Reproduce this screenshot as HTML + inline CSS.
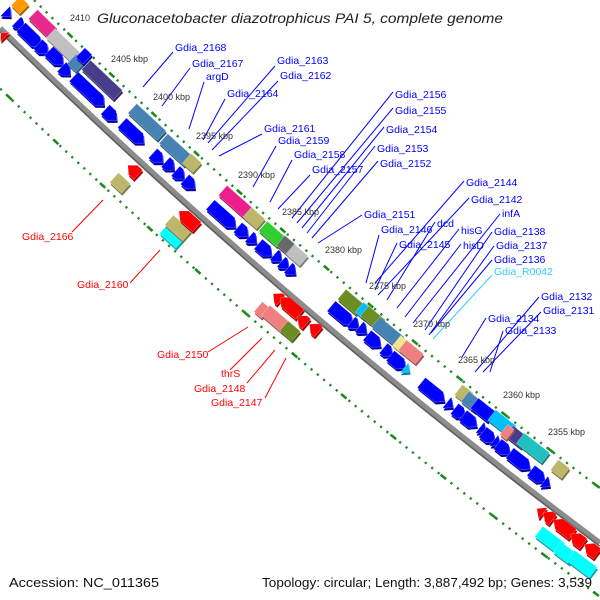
<!DOCTYPE html>
<html><head><meta charset="utf-8"><style>
html,body{margin:0;padding:0;background:#fff;width:600px;height:600px;overflow:hidden;}
svg{display:block;font-family:"Liberation Sans",sans-serif;}
</style></head><body>
<svg id="s" width="600" height="600" viewBox="0 0 600 600" xmlns="http://www.w3.org/2000/svg" overflow="hidden">
<rect width="600" height="600" fill="#fff"/>
<svg x="0" y="0" width="600" height="600" overflow="hidden">
<g id="bg"></g><g id="genes"></g><g id="lines"></g><g id="txt"></g>
</svg>
<rect x="94" y="7" width="414" height="21" fill="#fff"/>
<text x="97" y="23" font-size="14" font-style="italic" fill="#222" textLength="406" lengthAdjust="spacingAndGlyphs">Gluconacetobacter diazotrophicus PAI 5, complete genome</text>
<text x="9" y="587" font-size="13" fill="#111" textLength="150" lengthAdjust="spacingAndGlyphs">Accession: NC_011365</text>
<text x="262" y="587" font-size="13" fill="#111" textLength="330" lengthAdjust="spacingAndGlyphs">Topology: circular; Length: 3,887,492 bp; Genes: 3,539</text>
</svg>
<script>
(function(){
var NS="http://www.w3.org/2000/svg";
var cx=4130,cy=-4178,R=Math.hypot(0-cx,27-cy),phA=Math.atan2(27-cy,0-cx);
function pt(s,d){var p=phA-s/R,r=R-d;return [cx+r*Math.cos(p),cy+r*Math.sin(p)];}
function sOf(x,y){return R*(phA-Math.atan2(y-cy,x-cx));}
function inside(p){return p[0]>=0&&p[0]<=600&&p[1]>=0&&p[1]<=600;}
function el(par,tag,at){var e=document.createElementNS(NS,tag);for(var k in at)e.setAttribute(k,at[k]);document.getElementById(par).appendChild(e);return e;}
function arc(d,s1,s2){var a=pt(s1,d),b=pt(s2,d),r=R-d;return "M"+a[0]+","+a[1]+" A"+r+","+r+" 0 0 0 "+b[0]+","+b[1];}
function fullArc(d){var s1=null,s2=null;for(var s=-100;s<1000;s+=0.5){if(inside(pt(s,d))){if(s1===null)s1=s;s2=s;}}return arc(d,s1,s2);}
el("bg","path",{d:fullArc(-1),stroke:"#8c8c8c","stroke-width":6,fill:"none"});
el("bg","path",{d:fullArc(-3.5),stroke:"#5e5e5e","stroke-width":1.6,fill:"none"});
[43,-44].forEach(function(d){
 el("bg","path",{d:fullArc(d),stroke:"#1f8a1f","stroke-width":2.4,fill:"none","stroke-dasharray":"2.2 6"});
});
function dashes(d,p1,p2,n){var s1=sOf(p1[0],p1[1]),s2=sOf(p2[0],p2[1]),st=(s2-s1)/n;
 for(var k=-1;k<=n+2;k++){var s=s1+k*st;if(inside(pt(s-4,d))&&inside(pt(s+4,d)))el("bg","path",{d:arc(d,s-3.5,s+3.5),stroke:"#1f8a1f","stroke-width":2.6,fill:"none"});}}
dashes(43,[73,32],[553,447],11);
dashes(-44,[8,99],[545,555],11);
function shade(c){var n=parseInt(c.slice(1),16),r=n>>16,g=(n>>8)&255,b=n&255;
 return "rgb("+Math.round(r*0.65)+","+Math.round(g*0.65)+","+Math.round(b*0.65)+")";}
function gene(x,y,L,col,dir,T){T=T||13;var h=T/2,hh=Math.min(7,L),pts;
 if(dir==0){pts=[[-L/2,-h],[L/2,-h],[L/2,h],[-L/2,h]];}
 else if(L<=7){pts=[[-L/2,-h],[L/2,0],[-L/2,h]];}
 else{pts=[[-L/2,-h],[L/2-hh,-h],[L/2,0],[L/2-hh,h],[-L/2,h]];}
 if(dir<0)pts=pts.map(function(p){return [-p[0],p[1]];});
 var th=Math.atan2(y-cy,x-cx)*180/Math.PI-90;
 var ps=pts.map(function(p){return p[0].toFixed(1)+","+p[1].toFixed(1);}).join(" ");
 el("genes","polygon",{points:ps,fill:shade(col),transform:"translate("+(x+0.8)+","+(y+2.4)+") rotate("+th+")"});
 el("genes","polygon",{points:ps,fill:col,stroke:"rgba(255,255,255,0.35)","stroke-width":0.6,transform:"translate("+x+","+y+") rotate("+th+")"});
}
var B="#0000ff";
[[8,14,8],[20,25,10],[31,37,28],[43,49,14],[56,58,20],[66,71,12],[89,91,42],[111,115,16],[133,133,30],[158,158,14],[170,166,12],[180,175,12],[190,184,14],[223,216,34],[243,232,14],[253,240,10],[265,250,18],[278,258,10],[285,265,10],[292,271,10],[342,315,28],[355,325,10],[363,330,10],[374,341,18],[388,352,12],[398,362,20],[433,392,30],[450,405,8],[460,413,14],[470,421,18],[483,430,8],[489,437,16],[497,443,8],[504,449,16],[520,461,26],[538,476,18],[547,484,8]].forEach(function(g){gene(g[0],g[1],g[2],B,1);});
gene(407,370,7,"#00bfff",1);
[[20,5,12,"#ff9900"],[43,24,28,"#e8288c"],[63,45,34,"#c0c0c0"],[76,63,12,"#4682b4"],[84,56,10,"#0000ff"],[102,80,44,"#483d8b"],[147,122,40,"#4682b4"],[176,150,34,"#4682b4"],[192,163,14,"#bdb76b"],[237,203,38,"#ec1e8c"],[254,218,18,"#bdb76b"],[272,234,24,"#32cd32"],[286,245,14,"#696969"],[297,255,18,"#c0c0c0"],[351,302,24,"#6b8e23"],[364,311,12,"#00bfff"],[373,318,22,"#6b8e23"],[388,332,32,"#4682b4"],[402,345,14,"#f0e68c"],[411,352,22,"#f08080"],[464,394,14,"#bdb76b"],[472,402,18,"#4682b4"],[483,410,22,"#0000ff"],[502,423,26,"#00bfff"],[517,437,20,"#483d8b"],[507,432,8,"#f08080"],[533,448,32,"#20c0c0"],[560,469,14,"#bdb76b"],
 [120,183,16,"#bdb76b"],[172,236,22,"#00ffff"],[178,228,24,"#bdb76b"],[262,310,10,"#f08080"],[277,320,30,"#f08080"],[290,331,16,"#6b8e23"],[550,540,28,"#00ffff"],[565,553,20,"#00ffff"],[582,564,28,"#00ffff"]].forEach(function(g){gene(g[0],g[1],g[2],g[3],0);});
[[3,35,6],[133,170,14],[188,219,24],[277,297,10],[290,306,26],[302,320,12],[314,328,12],[540,511,8],[548,516,12],[563,527,24],[577,539,16],[591,549,16]].forEach(function(g){gene(g[0],g[1],g[2],"#ff0000",-1);});
[["2410",70,21],["2405 kbp",111,62],["2400 kbp",153,100],["2395 kbp",196,139],["2390 kbp",238,178],["2385 kbp",282,215],["2380 kbp",325,253],["2375 kbp",369,289],["2370 kbp",413,327],["2365 kbp",458,363],["2360 kbp",503,398],["2355 kbp",548,435]].forEach(function(t){var e=el("txt","text",{x:t[1],y:t[2],"font-size":9,fill:"#333"});e.textContent=t[0];});
var b="#0000ff",r="#ff0000",c="#33ccff";
var L=[["Gdia_2168",175,51,173,52,143,87,b],["Gdia_2167",192,67,190,68,162,106,b],["argD",206,80,204,82,189,129,b],["Gdia_2163",277,64,275,66,208,143,b],["Gdia_2162",280,79,278,81,212,150,b],["Gdia_2164",227,97,225,99,203,140,b],["Gdia_2161",264,132,262,134,219,156,b],["Gdia_2159",278,144,276,146,253,187,b],["Gdia_2158",294,158,292,160,270,202,b],["Gdia_2157",312,173,310,175,278,209,b],["Gdia_2156",395,98,393,92,292,218,b],["Gdia_2155",395,114,393,108,297,223,b],["Gdia_2154",386,133,384,127,302,228,b],["Gdia_2153",377,152,375,146,307,233,b],["Gdia_2152",380,167,378,161,312,238,b],["Gdia_2151",364,218,362,215,318,243,b],["Gdia_2144",466,186,464,181,375,283,b],["Gdia_2146",381,233,379,235,366,283,b],["Gdia_2142",471,203,469,198,378,295,b],["dcd",437,227,435,222,387,300,b],["Gdia_2145",399,248,397,243,375,290,b],["hisG",461,234,459,229,397,308,b],["hisD",463,249,461,244,405,317,b],["infA",502,217,500,214,413,323,b],["Gdia_2138",494,235,492,232,425,330,b],["Gdia_2137",496,249,494,246,429,335,b],["Gdia_2136",494,263,492,260,431,333,b],["Gdia_R0042",494,275,492,275,433,339,c],["Gdia_2134",488,322,486,318,462,357,b],["Gdia_2133",505,334,503,331,490,372,b],["Gdia_2132",541,300,539,297,475,372,b],["Gdia_2131",543,314,541,312,483,372,b],
["Gdia_2166",22,240,72,232,103,200,r],["Gdia_2160",77,288,130,283,160,250,r],["Gdia_2150",157,358,208,352,248,327,r],["thrS",221,377,230,370,262,338,r],["Gdia_2148",194,392,247,383,275,350,r],["Gdia_2147",211,406,265,398,286,358,r]];
L.forEach(function(l){el("lines","line",{x1:l[3],y1:l[4],x2:l[5],y2:l[6],stroke:l[7],"stroke-width":1});
 var e=el("txt","text",{x:l[1],y:l[2],"font-size":10.5,fill:l[7]});e.textContent=l[0];});
})();
</script>
</body></html>
